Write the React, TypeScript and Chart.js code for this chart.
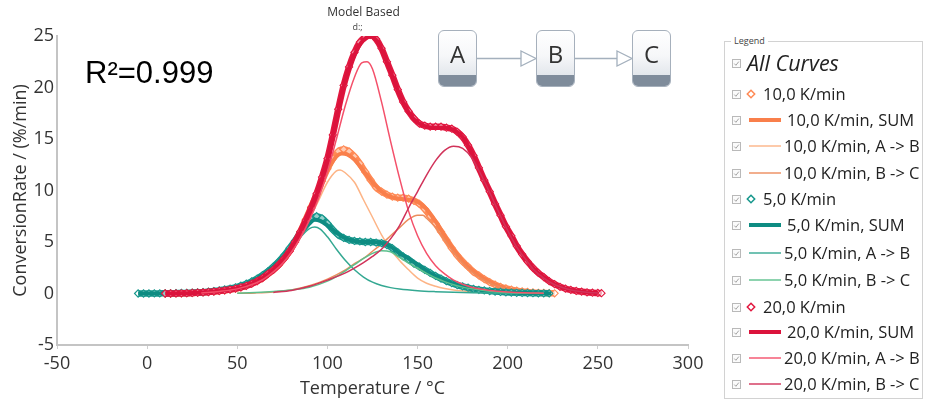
import React, { useEffect, useRef } from "react";
import { Chart, registerables } from "chart.js";

Chart.register(...registerables);

type Pt = [number, number];

// ---------- axes ----------
const X_MIN = -50;
const X_MAX = 300;
const X_STEP = 50;
const Y_MIN = -5;
const Y_MAX = 25;
const Y_STEP = 5;
const X_TITLE = "Temperature / °C";
const Y_TITLE = "ConversionRate / (%/min)";

// ---------- labels ----------
const RATES = ["10,0 K/min", "5,0 K/min", "20,0 K/min"];
const STEPS = ["A -> B", "B -> C"];
const SPECIES = ["A", "B", "C"];
const FIT_TEXT = "R²=0.999";
const HEADER = ["Model Based", "d:;"];

// ---------- 10 K/min ----------
const ORANGE_MEASURED: Pt[] = [
  [10, 0], [13, 0], [16, 0.01], [19, 0.02], [22, 0.03], [25, 0.05], [28, 0.08], [31, 0.11], [34, 0.15], [37, 0.2],
  [40, 0.25], [43, 0.31], [46, 0.39], [49, 0.48], [52, 0.6], [55, 0.76], [58, 0.96], [61, 1.2], [64, 1.5], [67, 1.9],
  [70, 2.3], [73, 2.8], [76, 3.4], [79, 4.1], [82, 5.0], [85, 6.0], [88, 7.2], [91, 8.4], [94, 9.6], [97, 10.9],
  [100, 12.1], [103, 13.1], [106, 13.8], [109, 14.0], [112, 13.8], [115, 13.3], [118, 12.6], [121, 11.8], [124, 11.0], [127, 10.3],
  [130, 9.9], [133, 9.6], [136, 9.4], [139, 9.3], [142, 9.3], [145, 9.2], [148, 9.0], [151, 8.7], [154, 8.2], [157, 7.5],
  [160, 6.8], [163, 6.0], [166, 5.2], [169, 4.4], [172, 3.7], [175, 3.1], [178, 2.6], [181, 2.1], [184, 1.75], [187, 1.4],
  [190, 1.1], [193, 0.85], [196, 0.65], [199, 0.5], [202, 0.38], [205, 0.28], [208, 0.2], [211, 0.15], [214, 0.1], [217, 0.07],
  [220, 0.05], [223, 0.03], [226, 0.02],
];
const ORANGE_SUM: Pt[] = [
  [10, 0], [15, 0.01], [20, 0.02], [25, 0.05], [30, 0.1], [35, 0.16], [40, 0.25], [45, 0.36], [50, 0.5], [55, 0.75],
  [60, 1.1], [65, 1.6], [70, 2.3], [75, 3.2], [80, 4.4], [85, 6.0], [90, 7.9], [95, 9.9], [100, 11.9], [105, 13.3],
  [108, 13.6], [111, 13.5], [115, 13.0], [120, 11.9], [125, 10.8], [130, 9.9], [135, 9.4], [140, 9.2], [145, 9.1], [150, 8.9],
  [155, 8.2], [160, 7.0], [165, 5.6], [170, 4.25], [175, 3.15], [180, 2.3], [185, 1.65], [190, 1.15], [195, 0.75], [200, 0.45],
  [205, 0.28], [210, 0.17], [215, 0.1], [220, 0.05], [225, 0.02],
];
const ORANGE_AB: Pt[] = [
  [20, 0.02], [30, 0.08], [40, 0.22], [50, 0.48], [55, 0.72], [60, 1.05], [65, 1.5], [70, 2.15], [75, 3.0], [80, 4.1],
  [85, 5.5], [90, 7.2], [95, 9.0], [100, 10.8], [105, 11.9], [107, 12.0], [110, 11.7], [115, 10.8], [120, 9.1], [125, 7.4],
  [130, 5.7], [135, 4.3], [140, 3.2], [145, 2.3], [150, 1.5], [155, 1.0], [160, 0.7], [165, 0.48], [170, 0.33], [180, 0.17],
  [190, 0.08], [200, 0.04], [210, 0.02],
];
const ORANGE_BC: Pt[] = [
  [50, 0.02], [60, 0.06], [70, 0.15], [80, 0.35], [90, 0.75], [100, 1.4], [110, 2.3], [115, 2.9], [120, 3.4], [125, 4.1],
  [130, 4.8], [135, 5.6], [140, 6.4], [145, 7.2], [150, 7.6], [153, 7.6], [155, 7.3], [160, 6.4], [165, 5.2], [170, 4.0],
  [175, 2.95], [180, 2.1], [185, 1.5], [190, 1.02], [195, 0.68], [200, 0.42], [210, 0.16], [220, 0.06], [225, 0.03],
];

// ---------- 5 K/min ----------
const TEAL_MEASURED: Pt[] = [
  [-5, 0], [-2, 0], [1, 0], [4, 0.01], [7, 0.01], [10, 0.02], [13, 0.02], [16, 0.03], [19, 0.05], [22, 0.06],
  [25, 0.08], [28, 0.1], [31, 0.13], [34, 0.18], [37, 0.24], [40, 0.3], [43, 0.39], [46, 0.48], [49, 0.6], [52, 0.76],
  [55, 0.95], [58, 1.18], [61, 1.45], [64, 1.78], [67, 2.15], [70, 2.6], [73, 3.1], [76, 3.7], [79, 4.4], [82, 5.1],
  [85, 5.9], [88, 6.6], [91, 7.2], [94, 7.5], [97, 7.3], [100, 6.8], [103, 6.2], [106, 5.7], [109, 5.4], [112, 5.2],
  [115, 5.1], [118, 5.05], [121, 5.0], [124, 5.0], [127, 4.95], [130, 4.9], [133, 4.7], [136, 4.4], [139, 4.0], [142, 3.6],
  [145, 3.3], [148, 2.9], [151, 2.6], [154, 2.3], [157, 2.0], [160, 1.7], [163, 1.45], [166, 1.2], [169, 1.0], [172, 0.82],
  [175, 0.68], [178, 0.56], [181, 0.45], [184, 0.36], [187, 0.3], [190, 0.24], [193, 0.19], [196, 0.15], [199, 0.11], [202, 0.09],
  [205, 0.07], [208, 0.05], [211, 0.04], [214, 0.03], [217, 0.02], [220, 0.02], [223, 0.01],
];
const TEAL_SUM: Pt[] = [
  [-5, 0], [0, 0], [5, 0.01], [10, 0.02], [15, 0.03], [20, 0.05], [25, 0.08], [30, 0.12], [35, 0.2], [40, 0.3],
  [45, 0.45], [50, 0.65], [55, 0.95], [60, 1.35], [65, 1.9], [70, 2.6], [75, 3.5], [80, 4.6], [85, 5.8], [90, 6.8],
  [93, 7.15], [96, 7.05], [100, 6.6], [105, 5.9], [110, 5.35], [115, 5.1], [120, 5.0], [125, 5.0], [130, 4.9], [135, 4.55],
  [140, 3.9], [145, 3.4], [150, 2.8], [155, 2.2], [160, 1.7], [165, 1.3], [170, 0.95], [175, 0.7], [180, 0.5], [185, 0.35],
  [190, 0.25], [195, 0.17], [200, 0.1], [210, 0.05], [220, 0.02], [224, 0.01],
];
const TEAL_AB: Pt[] = [
  [10, 0.01], [20, 0.04], [30, 0.1], [40, 0.27], [50, 0.6], [55, 0.88], [60, 1.25], [65, 1.75], [70, 2.4], [75, 3.25],
  [80, 4.3], [85, 5.45], [90, 6.3], [93, 6.45], [96, 6.25], [100, 5.5], [105, 4.3], [110, 3.2], [115, 2.3], [120, 1.6],
  [125, 1.1], [130, 0.78], [135, 0.57], [140, 0.43], [150, 0.27], [160, 0.18], [170, 0.12], [180, 0.08], [190, 0.05], [200, 0.03],
  [220, 0.01],
];
const TEAL_BC: Pt[] = [
  [50, 0.03], [60, 0.1], [70, 0.2], [80, 0.35], [90, 0.6], [100, 1.2], [105, 1.65], [110, 2.2], [115, 2.8], [120, 3.4],
  [125, 3.9], [130, 4.15], [135, 4.05], [140, 3.5], [145, 2.95], [150, 2.45], [155, 1.95], [160, 1.5], [165, 1.15], [170, 0.85],
  [175, 0.62], [180, 0.45], [190, 0.22], [200, 0.1], [210, 0.05], [220, 0.02],
];

// ---------- 20 K/min ----------
const RED_MEASURED: Pt[] = [
  [10, 0], [13, 0], [16, 0.01], [19, 0.02], [22, 0.03], [25, 0.05], [28, 0.08], [31, 0.11], [34, 0.14], [37, 0.19],
  [40, 0.25], [43, 0.31], [46, 0.38], [49, 0.47], [52, 0.6], [55, 0.75], [58, 0.95], [61, 1.2], [64, 1.5], [67, 1.9],
  [70, 2.3], [73, 2.8], [76, 3.4], [79, 4.1], [82, 5.0], [85, 6.0], [88, 7.1], [91, 8.3], [94, 9.7], [97, 11.3],
  [100, 13.1], [103, 15.4], [106, 17.9], [109, 20.2], [112, 22.0], [115, 23.4], [118, 24.4], [121, 24.9], [124, 25.1], [127, 24.7],
  [130, 23.8], [133, 22.5], [136, 21.2], [139, 19.8], [142, 18.6], [145, 17.7], [148, 17.0], [151, 16.5], [154, 16.3], [157, 16.2],
  [160, 16.2], [163, 16.2], [166, 16.1], [169, 16.0], [172, 15.7], [175, 15.2], [178, 14.4], [181, 13.4], [184, 12.2], [187, 11.0],
  [190, 9.9], [193, 8.7], [196, 7.6], [199, 6.5], [202, 5.6], [205, 4.6], [208, 3.8], [211, 3.1], [214, 2.5], [217, 2.0],
  [220, 1.6], [223, 1.2], [226, 0.9], [229, 0.65], [232, 0.48], [235, 0.35], [238, 0.25], [241, 0.18], [244, 0.12], [247, 0.08],
  [250, 0.05], [252, 0.03],
];
const RED_SUM: Pt[] = [
  [10, 0], [15, 0], [20, 0.02], [25, 0.05], [30, 0.1], [35, 0.15], [40, 0.25], [45, 0.35], [50, 0.5], [55, 0.75],
  [60, 1.1], [65, 1.6], [70, 2.3], [75, 3.2], [80, 4.4], [85, 6.0], [90, 7.9], [95, 10.1], [100, 13.0], [105, 17.0],
  [110, 20.8], [115, 23.2], [120, 24.6], [124, 24.95], [128, 24.4], [132, 22.9], [136, 21.1], [140, 19.3], [145, 17.6], [150, 16.6],
  [155, 16.2], [160, 16.1], [165, 16.1], [170, 15.9], [175, 15.2], [180, 13.7], [185, 11.8], [190, 9.9], [195, 8.0], [200, 6.2],
  [205, 4.6], [210, 3.4], [215, 2.3], [220, 1.6], [225, 1.0], [230, 0.6], [235, 0.35], [240, 0.2], [245, 0.1], [250, 0.05],
];
const RED_AB: Pt[] = [
  [30, 0.05], [40, 0.2], [50, 0.45], [60, 1.0], [65, 1.45], [70, 2.1], [75, 2.9], [80, 4.0], [85, 5.4], [90, 7.1],
  [95, 9.2], [100, 11.8], [105, 15.0], [110, 18.3], [115, 21.0], [119, 22.4], [122, 22.5], [125, 21.8], [130, 18.6], [135, 14.8],
  [140, 11.2], [145, 8.0], [150, 5.6], [155, 3.9], [160, 2.7], [165, 1.9], [170, 1.3], [175, 0.9], [180, 0.6], [190, 0.3],
  [200, 0.15], [210, 0.07], [220, 0.03],
];
const RED_BC: Pt[] = [
  [70, 0.1], [80, 0.3], [90, 0.7], [100, 1.3], [110, 2.0], [120, 3.0], [125, 3.6], [130, 4.3], [135, 5.3], [140, 6.6],
  [145, 8.3], [150, 9.9], [155, 11.5], [160, 12.9], [165, 13.9], [170, 14.3], [175, 14.1], [180, 13.2], [185, 11.6], [190, 9.8],
  [195, 7.9], [200, 6.1], [205, 4.5], [210, 3.3], [215, 2.2], [220, 1.5], [225, 0.95], [230, 0.6], [235, 0.35], [240, 0.2],
  [245, 0.1], [250, 0.05],
];

// ---------- styling ----------
const FONT = "'Open Sans', 'Noto Sans', sans-serif";
type Palette = { pts: string; sum: string; ab: string; bc: string };
const PALETTES: Palette[] = [
  { pts: "#FF8A55", sum: "#F97F4B", ab: "#FDB486", bc: "#EC8C5C" },
  { pts: "#16978C", sum: "#0E8C82", ab: "#34A892", bc: "#5CC08D" },
  { pts: "#E2173F", sum: "#DB133C", ab: "#F4506A", bc: "#D1335A" },
];

const GROUPS: { measured: Pt[]; sum: Pt[]; ab: Pt[]; bc: Pt[] }[] = [
  { measured: ORANGE_MEASURED, sum: ORANGE_SUM, ab: ORANGE_AB, bc: ORANGE_BC },
  { measured: TEAL_MEASURED, sum: TEAL_SUM, ab: TEAL_AB, bc: TEAL_BC },
  { measured: RED_MEASURED, sum: RED_SUM, ab: RED_AB, bc: RED_BC },
];

const toXY = (arr: Pt[]) => arr.map(([x, y]) => ({ x, y }));

function buildDatasets() {
  const ds: any[] = [];
  GROUPS.forEach((g, i) => {
    const p = PALETTES[i];
    const rate = RATES[i];
    // measured points: dense hollow diamonds forming a band
    ds.push({
      label: rate,
      data: toXY(g.measured),
      showLine: true,
      borderColor: p.pts,
      borderWidth: 6.5,
      cubicInterpolationMode: "monotone",
      pointStyle: "rectRot",
      pointRadius: 3.6,
      pointBorderWidth: 1.1,
      pointBorderColor: p.pts,
      pointBackgroundColor: "rgba(255,255,255,0.55)",
    });
    ds.push({
      label: `${rate}, SUM`,
      data: toXY(g.sum),
      borderColor: p.sum,
      borderWidth: 4,
      pointRadius: 0,
      cubicInterpolationMode: "monotone",
    });
    ds.push({
      label: `${rate}, ${STEPS[0]}`,
      data: toXY(g.ab),
      borderColor: p.ab,
      borderWidth: 1.5,
      pointRadius: 0,
      cubicInterpolationMode: "monotone",
    });
    ds.push({
      label: `${rate}, ${STEPS[1]}`,
      data: toXY(g.bc),
      borderColor: p.bc,
      borderWidth: 1.5,
      pointRadius: 0,
      cubicInterpolationMode: "monotone",
    });
  });
  return ds.map((d, i) => ({ ...d, order: 100 - i, fill: false }));
}

// ---------- legend (HTML) ----------
type Row = { label: string; kind: "all" | "marker" | "thick" | "thin"; color: string };
function legendRows(): Row[] {
  const rows: Row[] = [{ label: "All Curves", kind: "all", color: "#222" }];
  RATES.forEach((r, i) => {
    const p = PALETTES[i];
    rows.push({ label: r, kind: "marker", color: p.pts });
    rows.push({ label: `${r}, SUM`, kind: "thick", color: p.sum });
    rows.push({ label: `${r}, ${STEPS[0]}`, kind: "thin", color: p.ab });
    rows.push({ label: `${r}, ${STEPS[1]}`, kind: "thin", color: p.bc });
  });
  return rows;
}

const CheckBox = ({ top }: { top: number }) => (
  <svg width={10} height={10} style={{ position: "absolute", left: 732, top }}>
    <rect x={0.5} y={0.5} width={8} height={8} fill="#fbfbfb" stroke="#b9b9b9" strokeWidth={1} />
    <polyline points="2.3,4.6 3.9,6.3 6.8,2.6" fill="none" stroke="#9a9a9a" strokeWidth={0.9} />
  </svg>
);

function Legend() {
  const rows = legendRows();
  const centers = [63, 94, 120, 146, 173, 199, 225, 253, 280, 307, 332, 358, 384];
  return (
    <>
      <div
        style={{
          position: "absolute",
          left: 724,
          top: 41,
          width: 199,
          height: 358,
          border: "1px solid #d2d2d2",
          boxSizing: "border-box",
        }}
      />
      <div
        style={{
          position: "absolute",
          left: 731,
          top: 34,
          padding: "0 3px",
          background: "#fff",
          fontSize: 9,
          lineHeight: "13px",
          color: "#444",
          fontFamily: FONT,
        }}
      >
        Legend
      </div>
      {rows.map((r, i) => {
        const cy = centers[i];
        const textLeft = r.kind === "all" ? 747 : r.kind === "marker" ? 763 : r.kind === "thick" ? 787 : 784;
        return (
          <React.Fragment key={i}>
            <CheckBox top={cy - 4.5} />
            {r.kind === "marker" && (
              <svg width={10} height={10} style={{ position: "absolute", left: 746, top: cy - 5 }}>
                <polygon points="5,1.3 8.7,5 5,8.7 1.3,5" fill="none" stroke={r.color} strokeWidth={1.5} />
              </svg>
            )}
            {(r.kind === "thick" || r.kind === "thin") && (
              <svg width={34} height={8} style={{ position: "absolute", left: 749, top: cy - 4 }}>
                <line x1={0} y1={4} x2={32} y2={4} stroke={r.color} strokeWidth={r.kind === "thick" ? 4 : 1.4} />
              </svg>
            )}
            <div
              style={{
                position: "absolute",
                left: textLeft,
                top: cy - 13,
                height: 26,
                lineHeight: "26px",
                fontSize: r.kind === "all" ? 21.5 : 16.5,
                fontStyle: r.kind === "all" ? "italic" : "normal",
                color: "#222",
                whiteSpace: "nowrap",
                fontFamily: FONT,
              }}
            >
              {r.label}
            </div>
          </React.Fragment>
        );
      })}
    </>
  );
}

// ---------- reaction scheme (HTML) ----------
function Scheme() {
  const lefts = [438, 536, 632];
  return (
    <>
      <svg width={925} height={100} style={{ position: "absolute", left: 0, top: 0 }}>
        {[0, 1].map((i) => {
          const x1 = lefts[i] + 39;
          const x2 = lefts[i + 1];
          return (
            <g key={i}>
              <line x1={x1} y1={58.5} x2={x2 - 15} y2={58.5} stroke="#a4b0bd" strokeWidth={1.3} />
              <polygon
                points={`${x2 - 15},51 ${x2},58.5 ${x2 - 15},66`}
                fill="#fff"
                stroke="#a4b0bd"
                strokeWidth={1.3}
              />
            </g>
          );
        })}
      </svg>
      {SPECIES.map((s, i) => (
        <div
          key={s}
          style={{
            position: "absolute",
            left: lefts[i],
            top: 30,
            width: 39,
            height: 57,
            boxSizing: "border-box",
            border: "1px solid #a6b0bc",
            borderRadius: 6,
            overflow: "hidden",
            background: "linear-gradient(to bottom, #ffffff 0%, #f6f7f9 45%, #e3e7ec 80%)",
          }}
        >
          <div
            style={{
              position: "absolute",
              left: 0,
              right: 0,
              top: 0,
              height: 46,
              lineHeight: "46px",
              textAlign: "center",
              fontSize: 24,
              color: "#333",
              fontFamily: FONT,
            }}
          >
            {s}
          </div>
          <div
            style={{ position: "absolute", left: 0, right: 0, bottom: 0, height: 11, background: "#7f8c9b" }}
          />
        </div>
      ))}
    </>
  );
}

export default function App() {
  const ref = useRef<HTMLCanvasElement | null>(null);

  useEffect(() => {
    if (!ref.current) return;
    Chart.defaults.font.family = FONT;
    const chart = new Chart(ref.current, {
      type: "line",
      data: { datasets: buildDatasets() },
      options: {
        animation: false,
        responsive: false,
        maintainAspectRatio: false,
        devicePixelRatio: 1,
        events: [],
        layout: { padding: { top: 36, right: 34, bottom: 0, left: 0 } },
        plugins: { legend: { display: false }, tooltip: { enabled: false }, title: { display: false } },
        scales: {
          x: {
            type: "linear",
            min: X_MIN,
            max: X_MAX,
            ticks: { stepSize: X_STEP, color: "#333", font: { size: 18, family: FONT }, padding: 4 },
            grid: { display: true, drawOnChartArea: false, drawTicks: true, tickLength: 4, color: "#cfcfcf" },
            border: { display: true, color: "#c4c4c4", width: 2 },
            title: {
              display: true,
              text: X_TITLE,
              color: "#333",
              font: { size: 18, family: FONT },
              padding: { top: 0, bottom: 5 },
            },
            afterFit: (s: any) => {
              s.height = 60;
            },
          },
          y: {
            type: "linear",
            min: Y_MIN,
            max: Y_MAX,
            ticks: { stepSize: Y_STEP, color: "#333", font: { size: 18, family: FONT }, padding: 3 },
            grid: { display: false, drawTicks: false },
            border: { display: true, color: "#c4c4c4", width: 2 },
            title: {
              display: true,
              text: Y_TITLE,
              color: "#333",
              font: { size: 18, family: FONT },
              padding: { top: 10, bottom: 0 },
            },
            afterFit: (s: any) => {
              s.width = 57;
            },
          },
        },
      } as any,
    });
    return () => chart.destroy();
  }, []);

  return (
    <div
      style={{
        position: "fixed",
        left: 0,
        top: 0,
        width: 925,
        height: 405,
        background: "#fff",
        overflow: "hidden",
        fontFamily: FONT,
      }}
    >
      <canvas ref={ref} width={722} height={405} style={{ position: "absolute", left: 0, top: 0, width: 722, height: 405 }} />
      <div
        style={{
          position: "absolute",
          left: 300,
          top: 4,
          width: 127,
          textAlign: "center",
          fontSize: 12,
          lineHeight: "15px",
          color: "#333",
        }}
      >
        {HEADER[0]}
      </div>
      <div
        style={{
          position: "absolute",
          left: 330,
          top: 21,
          width: 55,
          textAlign: "center",
          fontSize: 9,
          lineHeight: "12px",
          color: "#444",
        }}
      >
        {HEADER[1]}
      </div>
      <div
        style={{
          position: "absolute",
          left: 85,
          top: 57,
          fontSize: 31,
          lineHeight: "31px",
          fontFamily: "'Liberation Sans', Arial, sans-serif",
          color: "#000",
          whiteSpace: "nowrap",
        }}
      >
        {FIT_TEXT}
      </div>
      <Scheme />
      <Legend />
    </div>
  );
}
